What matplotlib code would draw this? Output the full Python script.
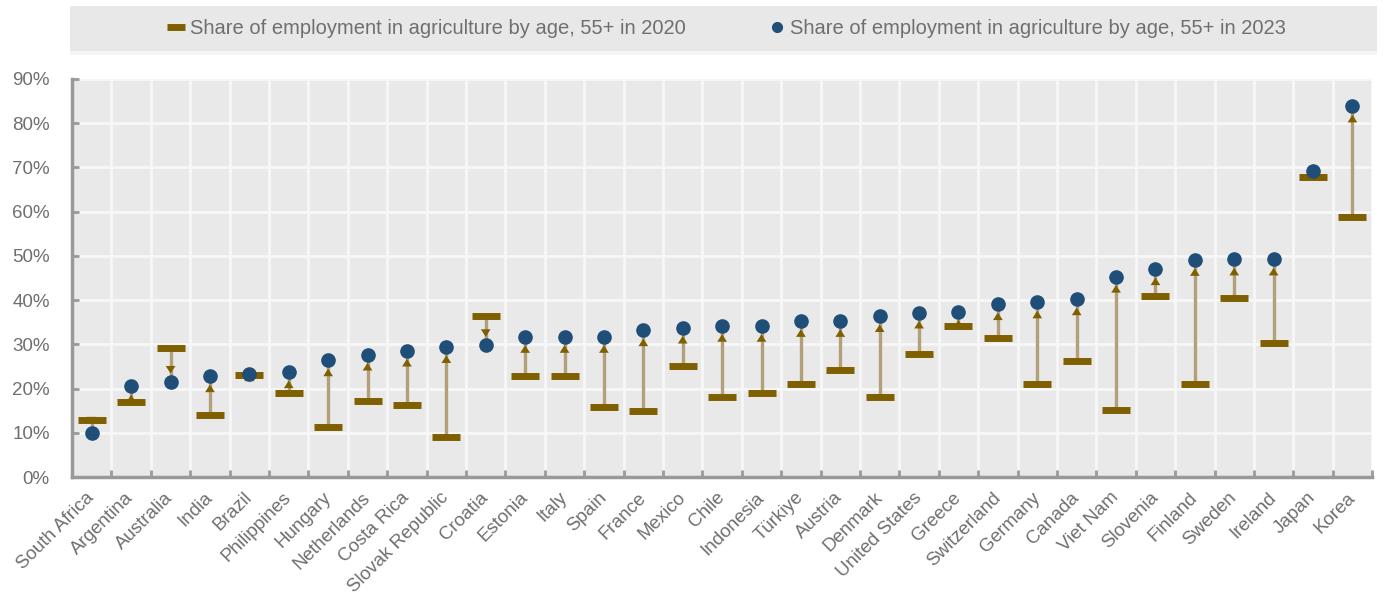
import numpy as np
import matplotlib.pyplot as plt
from matplotlib.lines import Line2D
from matplotlib.patches import Rectangle

plt.rcParams['font.family'] = ['Liberation Sans', 'DejaVu Sans']

countries = ["South Africa", "Argentina", "Australia", "India", "Brazil", "Philippines",
             "Hungary", "Netherlands", "Costa Rica", "Slovak Republic", "Croatia", "Estonia",
             "Italy", "Spain", "France", "Mexico", "Chile", "Indonesia", "Türkiye", "Austria",
             "Denmark", "United States", "Greece", "Switzerland", "Germany", "Canada",
             "Viet Nam", "Slovenia", "Finland", "Sweden", "Ireland", "Japan", "Korea"]
share_2020 = [12.8, 16.9, 29.1, 14.0, 23.0, 19.0, 11.4, 17.2, 16.3, 9.0, 36.4, 22.8,
              22.8, 15.9, 15.0, 25.1, 18.0, 19.0, 21.0, 24.1, 18.2, 27.9, 34.2, 31.5,
              21.0, 26.3, 15.2, 41.0, 21.0, 40.4, 30.4, 67.9, 58.8]
share_2023 = [10.0, 20.5, 21.5, 22.8, 23.4, 23.7, 26.4, 27.7, 28.6, 29.4, 29.8, 31.7,
              31.7, 31.7, 33.2, 33.8, 34.2, 34.2, 35.3, 35.3, 36.4, 37.2, 37.4, 39.1,
              39.5, 40.2, 45.3, 47.0, 49.1, 49.2, 49.2, 69.1, 83.8]
label_2020 = "Share of employment in agriculture by age, 55+ in 2020"
label_2023 = "Share of employment in agriculture by age, 55+ in 2023"
yticks = np.arange(0, 91, 10)

gold = '#7f6000'
tan = '#b3a07a'
blue = '#1f4e79'
txt = '#6f6f6f'

fig = plt.figure(figsize=(13.86, 5.98), dpi=100)
ax = fig.add_axes([0.052, 0.2023, 0.938, 0.6656])
ax.set_facecolor('#e9e9e9')

x = np.arange(len(countries))
ax.vlines(x, share_2020, share_2023, color=tan, lw=2.4, zorder=2)
for i in range(len(countries)):
    ax.annotate('', xy=(i, share_2023[i]), xytext=(i, share_2020[i]),
                arrowprops=dict(arrowstyle='-|>,head_length=0.55,head_width=0.35',
                                color=gold, lw=0, shrinkA=0, shrinkB=6,
                                mutation_scale=10), zorder=3)
ax.plot(x, share_2020, ls='none', marker='_', ms=19.5, mew=5, color=gold, zorder=4)
ax.plot(x, share_2023, ls='none', marker='o', ms=9.5, color=blue, mec=blue, zorder=5)

ax.set_xlim(-0.5, len(countries) - 0.5)
ax.set_ylim(0, 90)
ax.set_yticks(yticks)
ax.set_yticklabels([f"{v}%" for v in yticks], color=txt, fontsize=13.5)
ax.set_xticks(x)
ax.set_xticklabels(countries, rotation=45, ha='right', va='center',
                   rotation_mode='anchor', color=txt, fontsize=13.5)
ax.set_xticks(np.arange(-0.5, len(countries), 1), minor=True)
ax.tick_params(axis='x', which='major', length=0, pad=13)
ax.tick_params(axis='x', which='minor', direction='in', length=5, width=2, color='#999999')
ax.tick_params(axis='y', direction='in', length=5, width=2, color='#999999', pad=16)

ax.grid(axis='y', color='#f7f7f7', lw=2)
ax.grid(axis='x', which='minor', color='#f7f7f7', lw=2)
ax.set_axisbelow(True)
for s in ['top', 'right']:
    ax.spines[s].set_visible(False)
for s in ['left', 'bottom']:
    ax.spines[s].set_color('#999999')
    ax.spines[s].set_linewidth(2.5)

# legend band
fig.patches.append(Rectangle((0.0505, 0.908), 0.943, 0.007, transform=fig.transFigure,
                             facecolor='#f5f5f5', edgecolor='none'))
fig.patches.append(Rectangle((0.0505, 0.9147), 0.943, 0.0753, transform=fig.transFigure,
                             facecolor='#e8e8e8', edgecolor='none'))
handles = [Line2D([], [], ls='none', marker='_', ms=13, mew=5, color=gold),
           Line2D([], [], ls='none', marker='o', ms=7, color=blue)]
fig.legend(handles, [label_2020, label_2023], loc='center', bbox_to_anchor=(0.525, 0.952),
           ncol=2, frameon=False, fontsize=14.5, handlelength=0.7, handletextpad=0.3,
           columnspacing=4.2, labelcolor=txt)

fig.savefig('out.png', dpi=100)
